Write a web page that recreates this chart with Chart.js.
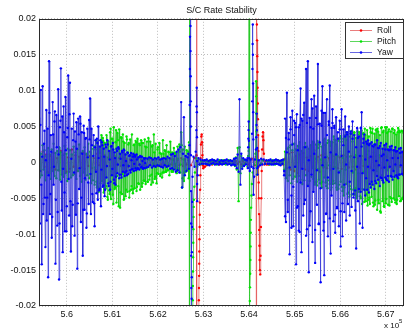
<!DOCTYPE html>
<html>
<head>
<meta charset="utf-8">
<title>S/C Rate Stability</title>
<script src="https://cdn.jsdelivr.net/npm/chart.js@4/dist/chart.umd.min.js"></script>
<style>
  html, body { margin: 0; padding: 0; background: #ffffff; }
  #wrap { width: 407px; height: 333px; }
</style>
</head>
<body>
<div id="wrap"><canvas id="c" width="407" height="333"></canvas></div>
<script>
// ---- axis ticks -------------------------------------------------------
const xTickValues = [560000, 561000, 562000, 563000, 564000, 565000, 566000, 567000];
const xTickLabels = ['5.6', '5.61', '5.62', '5.63', '5.64', '5.65', '5.66', '5.67'];
const yTickValues = [0.02, 0.015, 0.01, 0.005, 0, -0.005, -0.01, -0.015, -0.02];
const yTickLabels = ['0.02', '0.015', '0.01', '0.005', '0', '-0.005', '-0.01', '-0.015', '-0.02'];
const xRange = [559390, 567400];
const yRange = [-0.02, 0.02];

const seriesNames = ['Roll', 'Pitch', 'Yaw'];

// ---- regular telemetry samples (null = covered by the slew records) ---
const yawStart = 559390, yawStep = 20;
const yawRate = [
  .0062,-.0085,.0101,-.0142,.0106,-.0058,.0044,-.0118,.0073,-.0049,
  -.0160,.0141,-.0072,.0038,-.0105,.0084,-.0031,.0057,-.0141,.0066,
  -.0088,.0102,-.0163,.0049,.0131,-.0067,-.0125,.0078,-.0042,.0091,
  -.0096,.0035,.0121,-.0074,.0111,-.0124,.0047,-.0059,.0068,-.0102,
  .0029,.0056,-.0148,.0061,-.0037,.0064,-.0083,.0042,-.0130,.0051,
  -.0066,.0033,-.0091,.0047,-.0028,.0059,.0089,-.0072,.0024,-.0055,
  .0038,-.0089,.0031,-.0043,.0027,.0050,-.0039,.0022,-.0061,.0028,
  -.0034,.0019,-.0047,.0025,-.0021,.0031,-.0029,.0016,-.0038,.0022,
  -.0018,.0027,-.0024,.0014,-.0031,.0019,-.0015,.0021,-.0022,.0012,
  -.0017,.0016,-.0013,.0018,-.0019,.0011,-.0012,.0014,-.0016,.0009,
  -.0011,.0013,-.0010,.0008,-.0012,.0010,-.0008,.0011,-.0009,.0007,
  -.0010,.0009,-.0007,.0008,-.0009,.0006,-.0008,.0006,-.0007,.0005,
  -.0006,.0007,-.0004,.0006,-.0007,.0004,-.0005,.0006,-.0006,.0005,
  -.0004,.0007,-.0005,.0004,-.0006,.0005,-.0007,.0006,-.0004,.0005,
  -.0006,.0008,-.0005,.0006,-.0009,.0011,-.0008,.0012,-.0010,.0009,
  -.0013,.0015,-.0011,.0018,-.0014,.0021,.0084,-.0035,.0012,.0063,
  -.0018,.0009,-.0012,.0007,null,null,null,null,null,null,
  null,null,null,null,null,null,null,null,null,null,
  null,null,.0003,-.0002,.0004,-.0003,.0002,-.0004,.0003,-.0002,
  .0004,-.0001,.0003,-.0003,.0002,-.0002,.0004,-.0003,.0001,-.0002,
  .0003,-.0003,.0002,-.0002,.0003,-.0001,.0004,-.0003,.0002,-.0002,
  .0003,-.0004,.0002,-.0003,.0005,-.0004,.0006,-.0008,.0011,-.0013,
  .0088,-.0031,.0012,-.0009,.0006,-.0005,.0004,-.0003,.0003,null,
  null,null,null,null,null,null,null,null,null,null,
  null,null,null,null,null,null,null,null,null,null,
  null,null,.0003,-.0002,.0004,-.0003,.0002,-.0003,.0003,-.0002,
  .0004,-.0002,.0003,-.0003,.0002,-.0004,.0003,-.0002,.0004,-.0012,
  -.0075,.0034,.0097,-.0052,.0041,-.0128,.0063,-.0046,.0072,-.0089,
  .0038,.0055,-.0142,.0067,-.0061,.0049,-.0097,.0103,-.0125,.0058,
  -.0074,.0083,-.0052,.0130,-.0093,.0141,-.0153,.0062,-.0068,.0088,
  -.0111,.0047,.0093,-.0140,.0078,-.0059,.0137,-.0086,.0054,-.0167,
  .0072,.0106,-.0095,-.0157,.0069,-.0071,.0088,-.0103,.0057,.0107,
  -.0127,.0048,.0074,-.0082,.0051,-.0098,.0063,-.0064,.0042,-.0089,
  .0058,-.0117,.0074,-.0103,.0046,-.0069,.0064,-.0081,.0039,-.0058,
  .0050,-.0074,.0043,-.0062,.0057,-.0049,.0038,-.0067,-.0120,.0048,
  -.0054,.0036,-.0085,.0048,.0070,-.0091,.0033,.0039,-.0046,.0029,
  -.0038,.0031,-.0042,.0026,-.0035,.0028,-.0031,.0022,-.0037,.0025,
  -.0029,.0031,-.0024,.0020,-.0033,.0027,-.0022,.0019,-.0028,.0024,
  -.0021,.0026,-.0025,.0018,-.0027,.0022,-.0019,.0023,-.0024,.0017,
  -.0020,.0021,-.0018,.0016,-.0022,.0019,-.0017,.0020,-.0016,.0015,
  -.0018
];
// extra yaw samples half a step later, during the two noisy passes
const yawEarlyStart = 559400, yawEarlyStep = 20;
const yawEarlyRate = [
  -.0012,.0052,-.0031,.0008,-.0072,.0026,-.0049,.0003,-.0081,.0047,
  -.0018,.0069,-.0044,.0015,-.0076,.0039,-.0006,.0071,-.0052,.0021,
  -.0069,.0011,-.0085,.0058,-.0027,.0064,-.0009,.0042,-.0096,.0017,
  -.0061,.0048,-.0023,.0067,-.0054,.0005,-.0089,.0031,-.0014,.0043,
  -.0073,.0019,-.0057,.0039,-.0008,.0054,-.0049,.0012,-.0066,.0041,
  -.0022,.0034,-.0071,.0007,-.0058,.0032,-.0016,.0047,-.0044,.0009,
  -.0057,.0021,-.0013,.0033,-.0052,.0006,-.0037,.0031,-.0010,.0024,
  -.0032,.0008,-.0038,.0021,-.0005,.0025,-.0033,.0004,-.0027,.0023,
  -.0009,.0018,-.0029,.0006,-.0020,.0016,-.0003,.0019,-.0017,.0005,
  -.0021,.0014,-.0004,.0017,-.0014,.0002,-.0018,.0013,-.0005,.0010,
  -.0014,.0003,-.0009,.0012,-.0002,.0008,-.0011,.0004,-.0008,.0007,
  -.0003,.0008,-.0006,.0002,-.0008,.0005,-.0001
];
const yawLateStart = 564770, yawLateStep = 20;
const yawLateRate = [
  -.0018,.0061,-.0083,.0014,-.0069,.0032,-.0007,.0046,-.0091,.0025,
  -.0034,.0058,-.0006,.0049,-.0063,.0017,-.0095,.0052,-.0028,.0061,
  -.0009,.0066,-.0058,.0021,-.0102,.0055,-.0033,.0003,-.0088,.0049,
  -.0017,.0075,-.0041,.0012,-.0094,.0062,-.0011,.0053,-.0085,.0028,
  -.0036,.0051,-.0004,.0069,-.0083,.0007,-.0072,.0038,-.0021,.0052,
  -.0078,.0014,-.0046,.0055,-.0009,.0048,-.0073,.0011,-.0062,.0033,
  -.0014,.0046,-.0068,.0009,-.0057,.0024,-.0031,.0036,-.0003,.0042,
  -.0058,.0015,-.0027,.0040,-.0012,.0033,-.0044,.0007,-.0039,.0021,
  -.0006,.0034,-.0037,.0009,-.0041,.0022,-.0015,.0027,-.0038,.0004,
  -.0022,.0026,-.0006,.0024,-.0030,.0008,-.0027,.0023,-.0011,.0025,
  -.0026,.0002,-.0019,.0020,-.0004,.0023,-.0021,.0009,-.0025,.0011,
  -.0007,.0018,-.0023,.0003,-.0019,.0017,-.0006,.0018,-.0020,.0006,
  -.0012,.0017,-.0003,.0015,-.0020,.0006,-.0017,.0013,-.0004,.0014,
  -.0016
];

const pitchStart = 559390, pitchStep = 20;
const pitchRate = [
  .0015,-.0021,.0012,-.0018,.0024,-.0010,.0017,-.0025,.0009,-.0014,
  .0020,-.0016,.0011,-.0023,.0018,-.0012,.0026,-.0019,.0013,-.0022,
  .0016,-.0011,.0021,-.0024,.0014,-.0017,.0010,-.0020,.0023,-.0015,
  .0012,-.0026,.0019,-.0013,.0017,-.0021,.0011,-.0018,.0022,-.0016,
  .0014,-.0023,.0018,-.0012,.0025,-.0019,.0013,-.0027,.0016,-.0014,
  .0021,-.0024,.0012,-.0018,.0026,-.0022,.0015,-.0029,.0019,-.0025,
  .0023,-.0031,.0018,-.0027,.0029,-.0035,.0022,-.0038,.0031,-.0026,
  .0034,-.0042,.0027,-.0036,.0038,-.0048,.0029,-.0039,.0042,-.0051,
  .0033,-.0045,.0049,-.0037,.0028,-.0056,.0041,-.0033,.0046,-.0063,
  .0035,-.0044,.0039,-.0052,.0027,-.0047,.0036,-.0041,.0025,-.0049,
  .0032,-.0038,.0039,-.0043,.0024,-.0036,.0030,-.0040,.0033,-.0029,
  .0026,-.0038,.0031,-.0034,.0027,-.0025,.0032,-.0030,.0021,-.0027,
  .0034,-.0024,.0029,-.0031,.0022,-.0028,.0039,-.0023,.0026,-.0029,
  .0018,-.0016,.0027,-.0019,.0012,-.0021,.0031,-.0014,.0017,-.0013,
  .0024,-.0011,.0015,-.0018,.0029,-.0010,.0014,-.0013,.0020,-.0009,
  .0013,-.0015,.0022,-.0008,.0025,-.0014,.0042,-.0035,.0018,-.0026,
  .0022,-.0013,.0017,-.0010,null,null,null,null,null,null,
  null,null,null,null,null,null,null,null,null,null,
  null,null,.0003,-.0002,.0002,-.0003,.0002,-.0001,.0003,-.0002,
  .0002,-.0002,.0003,-.0001,.0002,-.0003,.0002,-.0002,.0003,-.0001,
  .0002,-.0002,.0003,-.0002,.0001,-.0003,.0002,-.0002,.0003,-.0002,
  .0002,-.0003,.0002,-.0002,.0004,-.0005,.0007,-.0010,.0020,-.0054,
  .0021,-.0015,.0009,-.0006,.0004,-.0003,.0003,-.0002,.0002,null,
  null,null,null,null,null,null,null,null,null,null,
  null,null,null,null,null,null,null,null,null,null,
  null,null,.0002,-.0003,.0002,-.0002,.0003,-.0002,.0002,-.0003,
  .0002,-.0002,.0003,-.0002,.0002,-.0003,.0002,-.0002,.0003,-.0010,
  .0015,-.0022,.0019,-.0026,.0021,-.0018,.0024,-.0029,.0017,-.0023,
  .0026,-.0020,.0018,-.0027,.0023,-.0019,.0028,-.0024,.0016,-.0030,
  .0021,-.0025,.0027,-.0018,.0022,-.0031,.0019,-.0026,.0024,-.0020,
  .0029,-.0023,.0017,-.0028,.0025,-.0032,.0020,-.0024,.0026,-.0029,
  .0022,-.0027,.0031,-.0021,.0024,-.0033,.0027,-.0025,.0029,-.0030,
  .0023,-.0035,.0028,-.0026,.0032,-.0029,.0025,-.0038,.0030,-.0031,
  .0034,-.0027,.0029,-.0040,.0033,-.0035,.0038,-.0030,.0031,-.0042,
  .0036,-.0033,.0040,-.0045,.0029,-.0038,.0042,-.0036,.0034,-.0047,
  .0039,-.0041,.0035,-.0050,.0044,-.0037,.0041,-.0055,.0038,-.0044,
  .0045,-.0052,.0036,-.0058,.0042,-.0048,.0047,-.0061,.0040,-.0053,
  .0046,-.0066,.0043,-.0057,.0038,-.0070,.0049,-.0054,.0044,-.0062,
  .0049,-.0051,.0041,-.0059,.0046,-.0048,.0043,-.0055,.0047,-.0050,
  .0045,-.0056,.0039,-.0052,.0048,-.0047,.0042,-.0053,.0044,-.0049,
  .0041
];
// extra pitch samples half a step later, during the two noisy passes
const pitchEarlyStart = 560620, pitchEarlyStep = 20;
const pitchEarlyRate = [
  -.0007,.0031,-.0035,.0006,-.0041,.0013,-.0029,.0038,-.0011,.0030,
  -.0037,.0008,-.0033,.0028,-.0052,.0006,-.0044,.0047,-.0012,.0033,
  -.0058,.0010,-.0035,.0045,-.0019,.0031,-.0061,.0007,-.0042,.0034,
  -.0016,.0029,-.0051,.0011,-.0038,.0032,-.0004,.0027,-.0040,.0009,
  -.0033,.0010,-.0037,.0025,-.0006,.0028,-.0034,.0005,-.0030,.0024,
  -.0008,.0027,-.0029,.0003,-.0026,.0022,-.0007,.0029,-.0027,.0004,
  -.0019,.0006,-.0017,.0024,-.0002,.0014,-.0020,.0004,-.0015,.0021,
  -.0004,.0013,-.0016,.0003,-.0014,.0012,-.0002,.0016,-.0013,.0005,
  -.0011,.0014,-.0003,.0011,-.0013,.0004,-.0010,.0013,-.0002,.0012,
  -.0012,.0005,-.0011,.0015,-.0003,.0024,-.0022,.0004,-.0014
];
const pitchLateStart = 565400, pitchLateStep = 20;
const pitchLateRate = [
  -.0008,.0028,-.0031,.0005,-.0027,.0030,-.0009,.0025,-.0029,.0004,
  -.0035,.0027,-.0006,.0033,-.0028,.0008,-.0036,.0031,-.0004,.0029,
  -.0038,.0011,-.0030,.0036,-.0007,.0031,-.0035,.0009,-.0037,.0033,
  -.0012,.0037,-.0034,.0006,-.0046,.0035,-.0010,.0042,-.0044,.0013,
  -.0048,.0008,-.0037,.0044,-.0014,.0039,-.0045,.0010,-.0050,.0043,
  -.0015,.0042,-.0047,.0009,-.0058,.0040,-.0013,.0047,-.0054,.0011,
  -.0060,.0016,-.0049,.0048,-.0008,.0041,-.0056,.0014,-.0059,.0045,
  -.0012,.0047,-.0052,.0010,-.0068,.0048,-.0018,.0042,-.0061,.0009,
  -.0057,.0049,-.0011,.0043,-.0060,.0015,-.0050,.0047,-.0009,.0041,
  -.0052,.0012,-.0058,.0042,-.0016,.0044,-.0054,.0008,-.0051,.0043
];

const rollStart = 559390, rollStep = 40;
const rollRate = [
  .0008,-.0012,.0015,-.0006,.0011,-.0014,.0009,-.0007,.0013,-.0010,
  .0006,-.0011,.0016,-.0008,.0012,-.0013,.0007,-.0009,.0018,-.0006,
  .0010,-.0012,.0008,-.0007,.0014,-.0009,.0011,-.0005,.0009,-.0008,
  .0006,-.0010,.0012,-.0004,.0008,-.0007,.0010,-.0006,.0007,-.0005,
  .0005,-.0007,.0008,-.0004,.0006,-.0005,.0007,-.0004,.0005,-.0006,
  .0004,-.0005,.0006,-.0003,.0005,-.0004,.0004,-.0005,.0003,-.0004,
  .0005,-.0003,.0004,-.0004,.0003,-.0005,.0004,-.0003,.0005,-.0004,
  .0003,-.0004,.0005,-.0003,.0004,-.0005,.0003,-.0004,.0006,-.0005,
  .0004,-.0003,null,null,null,null,null,null,null,null,
  null,-.0006,-.0004,-.0002,.0001,-.0003,.0002,-.0002,.0001,-.0003,
  .0002,-.0001,.0002,-.0002,.0001,-.0002,.0002,-.0001,.0002,-.0002,
  .0001,-.0003,.0002,-.0001,.0003,null,null,null,null,null,
  null,null,null,null,null,null,-.0003,.0002,-.0002,.0001,
  -.0002,.0003,-.0001,.0002,-.0003,.0005,-.0008,.0012,-.0010,.0014,
  -.0012,.0009,-.0015,.0011,-.0008,.0013,-.0010,.0007,-.0012,.0009,
  -.0006,.0011,-.0009,.0008,-.0013,.0010,-.0007,.0012,-.0008,.0006,
  -.0010,.0009,-.0006,.0011,-.0008,.0007,-.0009,.0010,-.0005,.0008,
  -.0007,.0009,-.0006,.0008,-.0010,.0006,-.0007,.0009,-.0005,.0007,
  -.0008,.0006,-.0007,.0008,-.0005,.0009,-.0006,.0007,-.0008,.0005,
  -.0006,.0008,-.0007,.0006,-.0009,.0007,-.0005,.0008,-.0006,.0007,
  -.0005
];

// ---- high-rate records around the two slews --------------------------
const yawSlewTime = [
  562665,562680,562692,562698,562701,562704,562707,562711,562714,562716,
  562718,562720,562722,562724,562726,562728,562730,562733,562736,562740,
  562743,562746,562749,562752,562760,562780,562805,562830,562843,562848,
  562851,562854,562856,562858,562860,562862,562872,562890,562910,562935,
  562960,562985,563005,
  563965,563975,563982,563985,563988,563991,563996,564004,564015,564035,
  564055,564066,564070,564074,564078,564082,564085,564088,564091,564094,
  564097,564100,564110,564130,564150,564158,564163,564168,564172,564176,
  564180,564185,564195,564215,564240,564265,564290,564320,564350,564380,
  564410
];
const yawSlewRate = [
  .0012,-.0009,.0024,.0080,.0130,.0175,.0300,.0420,.0190,.0155,
  .0120,.0085,.0050,.0010,-.0040,-.0085,-.0130,-.0175,-.0350,-.0190,
  -.0160,-.0125,-.0090,-.0055,-.0020,.0008,-.0006,.0015,.0045,.0078,
  .0104,.0070,.0035,.0002,-.0030,-.0054,-.0018,.0006,-.0003,.0004,
  -.0002,.0003,-.0002,
  .0006,-.0008,.0021,.0033,.0045,.0057,.0030,.0006,-.0012,.0004,
  -.0006,.0040,.0085,.0130,.0165,.0192,.0150,.0110,.0070,.0032,
  -.0008,-.0045,-.0020,.0004,.0018,.0035,.0052,.0068,.0045,.0020,
  -.0008,-.0017,-.0006,.0003,-.0004,.0005,-.0003,.0004,-.0002,.0003,
  -.0002
];

const pitchSlewTime = [
  562665,562675,562685,562692,562696,562760,562764,562767,562770,562773,
  562776,562779,562782,562785,562790,562798,562812,562835,562860,562890,
  562920,562950,562980,563010,
  563965,563980,563992,564000,564004,564012,564016,564020,564024,564028,
  564032,564036,564040,564045,564052,564062,564080,564110,564140,564155,
  564158,564161,564164,564167,564170,564175,564190,564220,564260,564300,
  564350,564400
];
const pitchSlewRate = [
  .0015,-.0022,.0028,.0450,-.0450,-.0300,-.0192,-.0172,-.0152,-.0132,
  -.0112,-.0093,-.0076,-.0062,-.0052,-.0034,-.0014,.0006,-.0006,.0004,
  -.0003,.0002,-.0002,.0002,
  -.0006,.0009,.0016,.0450,-.0450,-.0300,-.0193,-.0174,-.0155,-.0136,
  -.0117,-.0098,-.0080,-.0063,-.0046,-.0030,-.0014,-.0003,.0012,.0113,
  .0092,.0068,.0043,.0018,-.0007,-.0017,-.0006,.0003,-.0002,.0003,
  -.0002,.0002
];

const rollSlewTime = [
  562670,562720,562800,562845,562850,562853,562893,562897,562900,562903,
  562906,562909,562912,562915,562918,562921,562925,562930,562937,562945,
  562953,562960,562968,562976,562985,562995,563008,
  563965,564000,564060,564120,564155,564160,564163,564167,564171,564175,
  564179,564183,564187,564191,564195,564199,564203,564207,564211,564215,
  564219,564223,564227,564232,564238,564245,564252,564260,564268,564277,
  564287,564297,564306,564316,564326,564338,564360,564390,564415
];
const rollSlewRate = [
  .0003,-.0004,.0006,.0010,.0500,-.0500,-.0300,-.0192,-.0175,-.0158,
  -.0141,-.0124,-.0107,-.0090,-.0073,-.0056,-.0038,-.0018,.0006,.0025,
  .0036,.0039,.0028,.0010,-.0004,-.0008,-.0006,
  .0004,-.0003,.0005,-.0004,.0008,.0500,-.0500,.0300,.0192,.0170,
  .0148,.0126,.0104,.0082,.0060,.0038,.0016,-.0006,-.0028,-.0050,
  -.0072,-.0094,-.0116,-.0136,-.0150,-.0156,-.0130,-.0090,-.0050,-.0012,
  .0018,.0036,.0042,.0031,.0012,-.0003,.0002,-.0003,.0002
];

// collect sample blocks and slew records into one time-ordered series
function addSamples(pts, start, step, samples) {
  samples.forEach((v, i) => { if (v !== null) pts.push({ x: start + i * step, y: v }); });
}
function buildSeries(blocks, slewTime, slewRate) {
  const pts = [];
  blocks.forEach(b => addSamples(pts, b[0], b[1], b[2]));
  slewTime.forEach((t, k) => pts.push({ x: t, y: slewRate[k] }));
  pts.sort((a, b) => a.x - b.x);
  return pts;
}

const styles = [
  { line: 'rgba(225,70,70,0.7)',  dot: '#ff0000' },
  { line: 'rgba(30,200,30,0.72)', dot: '#00e600' },
  { line: 'rgba(45,45,215,0.72)', dot: '#0000ff' }
];

const seriesData = [
  buildSeries([[rollStart, rollStep, rollRate]], rollSlewTime, rollSlewRate),
  buildSeries([[pitchStart, pitchStep, pitchRate],
               [pitchEarlyStart, pitchEarlyStep, pitchEarlyRate],
               [pitchLateStart, pitchLateStep, pitchLateRate]], pitchSlewTime, pitchSlewRate),
  buildSeries([[yawStart, yawStep, yawRate],
               [yawEarlyStart, yawEarlyStep, yawEarlyRate],
               [yawLateStart, yawLateStep, yawLateRate]], yawSlewTime, yawSlewRate)
];

const FONT = "'Liberation Sans', Arial, Helvetica, sans-serif";
Chart.defaults.font.family = FONT;

// axes box, exponent label and the boxed legend inside the plot
const decorations = {
  id: 'decorations',
  afterDraw(chart) {
    const ctx = chart.ctx;
    const a = chart.chartArea;
    ctx.save();
    ctx.strokeStyle = '#2a2a2a';
    ctx.lineWidth = 1;
    ctx.strokeRect(Math.round(a.left) + 0.5, Math.round(a.top) + 0.5,
                   Math.round(a.right - a.left) - 1, Math.round(a.bottom - a.top) - 1);

    // exponent of the time axis
    ctx.fillStyle = '#111';
    ctx.textBaseline = 'alphabetic';
    ctx.textAlign = 'left';
    ctx.font = '8px ' + FONT;
    ctx.fillText('x 10', 384, 328);
    ctx.font = '6px ' + FONT;
    ctx.fillText('5', 399, 323);

    // legend
    const bx = 345.5, by = 22.5, bw = 58, bh = 36;
    ctx.fillStyle = '#ffffff';
    ctx.fillRect(bx, by, bw, bh);
    ctx.strokeStyle = '#333';
    ctx.strokeRect(bx, by, bw, bh);
    ctx.font = '8.5px ' + FONT;
    ctx.textBaseline = 'middle';
    chart.data.datasets.forEach((ds, k) => {
      const y = 30.5 + k * 11;
      ctx.strokeStyle = ds.borderColor;
      ctx.lineWidth = 1;
      ctx.beginPath();
      ctx.moveTo(350, y);
      ctx.lineTo(372, y);
      ctx.stroke();
      ctx.fillStyle = ds.pointBackgroundColor;
      ctx.beginPath();
      ctx.arc(361, y, 1.3, 0, Math.PI * 2);
      ctx.fill();
      ctx.fillStyle = '#111';
      ctx.fillText(ds.label, 377, y + 0.5);
    });
    ctx.restore();
  }
};

new Chart(document.getElementById('c'), {
  type: 'scatter',
  data: {
    datasets: seriesNames.map((name, k) => ({
      label: name,
      data: seriesData[k],
      showLine: true,
      tension: 0,
      borderColor: styles[k].line,
      borderWidth: 1,
      pointRadius: 1.2,
      pointHoverRadius: 0,
      pointBorderWidth: 0,
      pointBackgroundColor: styles[k].dot,
      order: 3 - k
    }))
  },
  options: {
    responsive: false,
    animation: false,
    events: [],
    layout: { padding: { left: 0, right: 3, top: 0, bottom: 0 } },
    plugins: {
      legend: { display: false },
      tooltip: { enabled: false },
      title: {
        display: true,
        text: 'S/C Rate Stability',
        fullSize: false,
        color: '#111',
        font: { size: 9, weight: 'normal', family: FONT },
        padding: { top: 5, bottom: 3 }
      }
    },
    scales: {
      x: {
        type: 'linear',
        min: xRange[0],
        max: xRange[1],
        afterBuildTicks: s => { s.ticks = xTickValues.map(v => ({ value: v })); },
        afterFit: s => { s.height = 27; },
        ticks: {
          autoSkip: false,
          maxRotation: 0,
          padding: 3,
          color: '#111',
          font: { size: 9 },
          callback: v => xTickLabels[xTickValues.indexOf(v)]
        },
        grid: { color: '#bdbdbd', lineWidth: 1, drawTicks: false },
        border: { display: false, dash: [1, 2] }
      },
      y: {
        type: 'linear',
        min: yRange[0],
        max: yRange[1],
        afterBuildTicks: s => { s.ticks = yTickValues.map(v => ({ value: v })); },
        afterFit: s => { s.width = 39; },
        ticks: {
          padding: 3,
          color: '#111',
          font: { size: 9 },
          callback: v => {
            const k = yTickValues.findIndex(t => Math.abs(t - v) < 1e-9);
            return k >= 0 ? yTickLabels[k] : '';
          }
        },
        grid: { color: '#bdbdbd', lineWidth: 1, drawTicks: false },
        border: { display: false, dash: [1, 2] }
      }
    }
  },
  plugins: [decorations]
});
</script>
</body>
</html>
